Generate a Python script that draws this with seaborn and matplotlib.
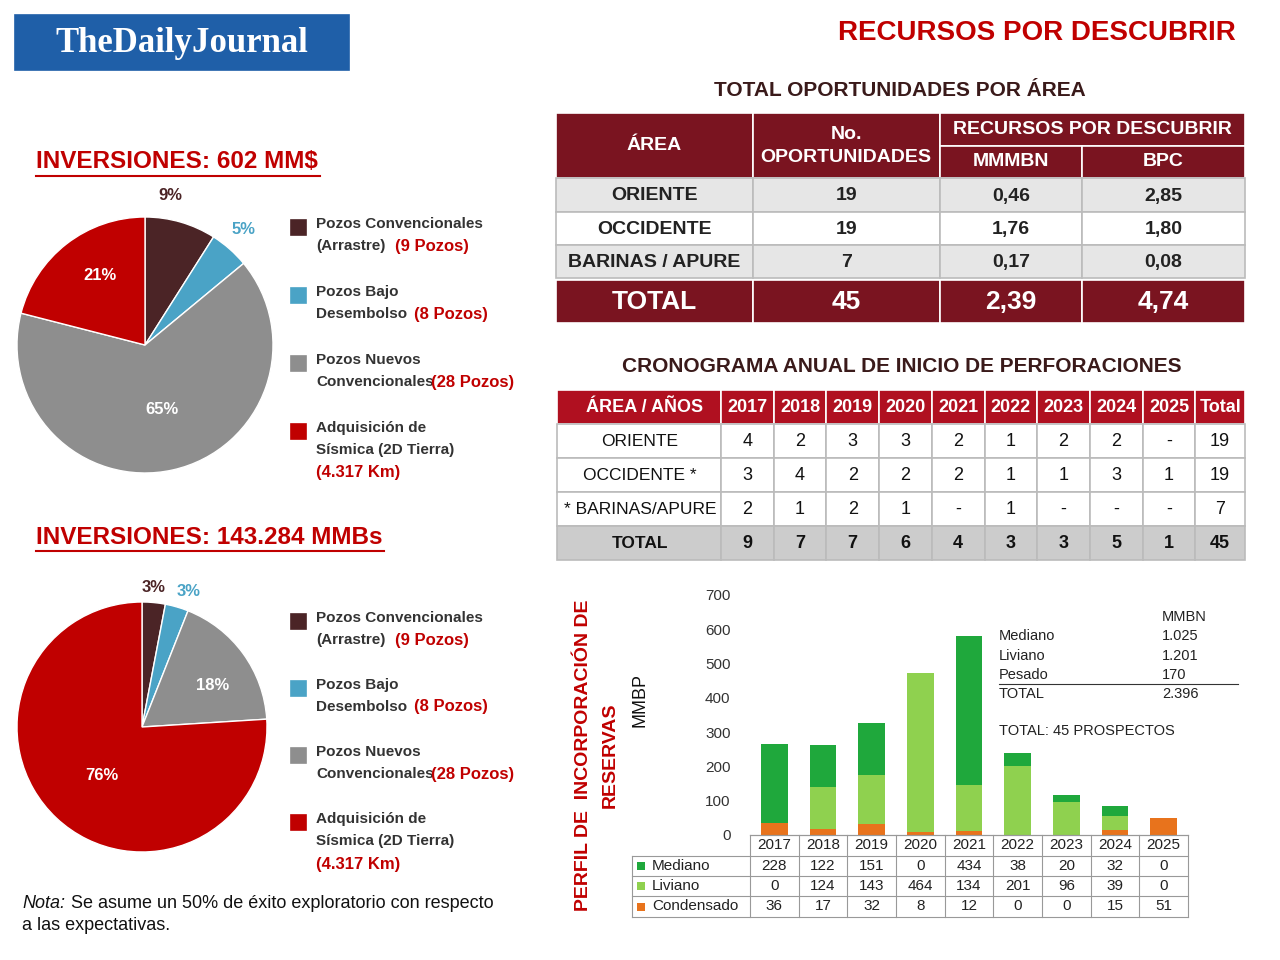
import matplotlib
matplotlib.use("Agg")
import matplotlib.pyplot as plt
import seaborn as sns
import pandas as pd
from matplotlib.patches import Rectangle

# ---- data ----
pie_labels = ["Pozos Convencionales\n(Arrastre)", "Pozos Bajo\nDesembolso", "Pozos Nuevos\nConvencionales", "Adquisición de\nSísmica (2D Tierra)"]
pie_extra = ["(9 Pozos)", "(8 Pozos)", "(28 Pozos)", "(4.317 Km)"]
pie1_vals = [9, 5, 65, 21]
pie2_vals = [3, 3, 18, 76]
pie_colors = ["#4b2426", "#4aa3c6", "#8e8e8e", "#c00000"]

areas = ["ORIENTE", "OCCIDENTE", "BARINAS / APURE"]
oportunidades = ["19", "19", "7"]
mmmbn = ["0,46", "1,76", "0,17"]
bpc = ["2,85", "1,80", "0,08"]
totals1 = ["45", "2,39", "4,74"]

years = ["2017", "2018", "2019", "2020", "2021", "2022", "2023", "2024", "2025"]
crono_rows = ["ORIENTE", "OCCIDENTE *", "* BARINAS/APURE", "TOTAL"]
crono = [["4", "2", "3", "3", "2", "1", "2", "2", "-", "19"],
         ["3", "4", "2", "2", "2", "1", "1", "3", "1", "19"],
         ["2", "1", "2", "1", "-", "1", "-", "-", "-", "7"],
         ["9", "7", "7", "6", "4", "3", "3", "5", "1", "45"]]

mediano = [228, 122, 151, 0, 434, 38, 20, 32, 0]
liviano = [0, 124, 143, 464, 134, 201, 96, 39, 0]
condensado = [36, 17, 32, 8, 12, 0, 0, 15, 51]

RED = "#c00000"
MAROON = "#7a1420"

plt.rcParams["font.family"] = ["Liberation Sans", "DejaVu Sans"]

fig = plt.figure(figsize=(12.8, 9.6), dpi=100)
fig.patch.set_facecolor("white")
ov = fig.add_axes([0, 0, 1, 1])
ov.set_xlim(0, 1280)
ov.set_ylim(960, 0)
ov.axis("off")
ov.set_zorder(5)
ov.patch.set_alpha(0)


def T(x, y, s, **kw):
    kw.setdefault("ha", "center")
    kw.setdefault("va", "center")
    ov.text(x, y, s, **kw)


def box(x0, y0, x1, y1, fc, ec="white", lw=1.2):
    ov.add_patch(Rectangle((x0, y0), x1 - x0, y1 - y0, fc=fc, ec=ec, lw=lw))


# logo + titles
box(15, 15, 349, 70, "#1f5fa8", ec="#1f5fa8")
T(182, 43, "TheDailyJournal", color="white", fontsize=25, fontweight="bold", family="Liberation Serif")
T(1037, 33, "RECURSOS POR DESCUBRIR", color=RED, fontsize=20, fontweight="bold")
T(900, 91, "TOTAL OPORTUNIDADES POR ÁREA", color="#3a1a1a", fontsize=15, fontweight="bold")
T(902, 367, "CRONOGRAMA ANUAL DE INICIO DE PERFORACIONES", color="#3a1a1a", fontsize=15, fontweight="bold")

# table 1
cx = [556, 753, 940, 1082, 1245]
for i in range(3):
    box(cx[i], 113, cx[i + 1], 178, MAROON)
box(940, 113, 1245, 146, MAROON)
box(940, 146, 1082, 178, MAROON)
box(1082, 146, 1245, 178, MAROON)
hk = dict(color="white", fontsize=14, fontweight="bold")
T(654, 146, "ÁREA", **hk)
T(846, 146, "No.\nOPORTUNIDADES", linespacing=1.5, **hk)
T(1092, 130, "RECURSOS POR DESCUBRIR", **hk)
T(1011, 162, "MMMBN", **hk)
T(1163, 162, "BPC", **hk)
ry = [178, 212, 245, 278]
for r in range(3):
    fc = "#e6e6e6" if r % 2 == 0 else "white"
    for i in range(4):
        box(cx[i], ry[r], cx[i + 1], ry[r + 1], fc, ec="#bbbbbb")
    vals = [areas[r], oportunidades[r], mmmbn[r], bpc[r]]
    for i in range(4):
        T((cx[i] + cx[i + 1]) / 2, (ry[r] + ry[r + 1]) / 2 + 1, vals[i], fontsize=14, fontweight="bold", color="#222")
for i in range(4):
    box(cx[i], 280, cx[i + 1], 323, MAROON)
T(654, 302, "TOTAL", color="white", fontsize=19, fontweight="bold")
for i in range(3):
    T((cx[i + 1] + cx[i + 2]) / 2, 302, totals1[i], color="white", fontsize=19, fontweight="bold")

# table 2
c2 = [557, 721] + [721 + 52.7 * k for k in range(1, 10)] + [1245]
ry2 = [390, 424, 458, 492, 526, 560]
for i in range(len(c2) - 1):
    box(c2[i], 390, c2[i + 1], 424, "#b01020")
T(645, 407, "ÁREA / AÑOS", color="white", fontsize=13, fontweight="bold")
for k, y in enumerate(years + ["Total"]):
    T((c2[k + 1] + c2[k + 2]) / 2, 407, y, color="white", fontsize=13, fontweight="bold")
for r in range(4):
    fc = "#cccccc" if r == 3 else "white"
    fw = "bold" if r == 3 else "normal"
    for i in range(len(c2) - 1):
        box(c2[i], ry2[r + 1], c2[i + 1], ry2[r + 2], fc, ec="#bbbbbb")
    yc = (ry2[r + 1] + ry2[r + 2]) / 2
    T(640, yc, crono_rows[r], fontsize=12.5, fontweight=fw, color="#111")
    for k, v in enumerate(crono[r]):
        T((c2[k + 1] + c2[k + 2]) / 2, yc, v, fontsize=13, fontweight=fw, color="#111")


# pies
def draw_pie(cx_, cy_, r, vals, title, ty, ulen, pct_pos):
    ax = fig.add_axes([(cx_ - r) / 1280, 1 - (cy_ + r) / 960, 2 * r / 1280, 2 * r / 960])
    ax.pie(vals, colors=pie_colors, startangle=90, counterclock=False, radius=1,
           wedgeprops=dict(edgecolor="white", linewidth=1))
    ax.set_xlim(-1, 1)
    ax.set_ylim(-1, 1)
    ax.set_aspect("auto")
    T(36, ty, title, ha="left", color=RED, fontsize=17.5, fontweight="bold")
    ov.plot([36, ulen], [ty + 14, ty + 14], color=RED, lw=1.5)
    for (x, y, c), v in zip(pct_pos, vals):
        T(x, y, f"{v}%", color=c, fontsize=12, fontweight="bold")


draw_pie(145, 345, 128, pie1_vals, "INVERSIONES: 602 MM$", 162, 320,
         [(170, 196, "#4b2426"), (244, 230, "#4aa3c6"), (162, 410, "white"), (100, 275, "white")])
draw_pie(142, 727, 125, pie2_vals, "INVERSIONES: 143.284 MMBs", 537, 384,
         [(154, 587, "#4b2426"), (189, 591, "#4aa3c6"), (213, 686, "white"), (102, 775, "white")])

extra_x = [395, 414, 431]


def pie_legend(y0, step):
    for k in range(4):
        y = y0 + k * step
        box(291, y - 8, 306, y + 7, pie_colors[k], ec=pie_colors[k])
        first, second = pie_labels[k].split("\n")
        T(316, y - 4, first, ha="left", fontsize=11, fontweight="bold", color="#333")
        T(316, y + 18, second, ha="left", fontsize=11, fontweight="bold", color="#333")
        if k < 3:
            T(extra_x[k], y + 18, pie_extra[k], ha="left", fontsize=12, fontweight="bold", color=RED)
        else:
            T(316, y + 41, pie_extra[k], ha="left", fontsize=12, fontweight="bold", color=RED)


pie_legend(228, 68)
pie_legend(622, 67)

T(22, 904, "Nota:", ha="left", fontsize=13, style="italic", color="#111")
T(71, 904, "Se asume un 50% de éxito exploratorio con respecto", ha="left", fontsize=13, color="#111")
T(22, 926, "a las expectativas.", ha="left", fontsize=13, color="#111")

# stacked bar chart
bx = fig.add_axes([750 / 1280, 1 - 835 / 960, 438 / 1280, 240 / 960])
df = pd.DataFrame({"year": years, "mediano": mediano, "liviano": liviano, "condensado": condensado})
base2 = [c + l for c, l in zip(condensado, liviano)]
sns.barplot(data=df, x="year", y="condensado", color="#e8731c", ax=bx, width=0.55, saturation=1)
sns.barplot(x=df["year"], y=df["liviano"], bottom=condensado, color="#8fd14f", ax=bx, width=0.55, saturation=1)
sns.barplot(x=df["year"], y=df["mediano"], bottom=base2, color="#1fa83c", ax=bx, width=0.55, saturation=1)
bx.set_ylim(0, 700)
bx.set_xlim(-0.5, 8.5)
bx.set_yticks(range(0, 701, 100))
bx.tick_params(axis="y", length=0, labelsize=11, colors="#333", pad=14)
bx.set_xticks([])
bx.set_xlabel("")
bx.set_ylabel("")
for s in bx.spines.values():
    s.set_visible(False)
bx.spines["bottom"].set_visible(True)
bx.spines["bottom"].set_color("#999")

T(640, 700, "MMBP", rotation=90, fontsize=13, color="#111")
T(583, 755, "PERFIL DE  INCORPORACIÓN DE", rotation=90, color=RED, fontsize=14, fontweight="bold")
T(610, 755, "RESERVAS", rotation=90, color=RED, fontsize=14, fontweight="bold")

# data table under chart
colw = 438 / 9
tx = [632, 750] + [750 + colw * k for k in range(1, 10)]
ty_ = [835, 856, 876, 896, 917]
for x in tx:
    ov.plot([x, x], [ty_[1] if x == 632 else 835, 917], color="#999", lw=0.8)
for y in ty_:
    ov.plot([632 if y > 835 else 750, 1188], [y, y], color="#999", lw=0.8)
for k, y in enumerate(years):
    T(750 + colw * (k + 0.5), 845, y, fontsize=11, color="#222")
rows = [("Mediano", mediano, "#1fa83c"), ("Liviano", liviano, "#8fd14f"), ("Condensado", condensado, "#e8731c")]
for r, (nm, vals, c) in enumerate(rows):
    yc = (ty_[r + 1] + ty_[r + 2]) / 2
    box(637, yc - 4, 645, yc + 4, c, ec=c, lw=0)
    T(652, yc, nm, ha="left", fontsize=11, color="#222")
    for k, v in enumerate(vals):
        T(750 + colw * (k + 0.5), yc, str(v), fontsize=11, color="#222")

# annotation
T(1162, 617, "MMBN", ha="left", fontsize=10.5, color="#222")
for i, (a, b) in enumerate([("Mediano", "1.025"), ("Liviano", "1.201"), ("Pesado", "170"), ("TOTAL", "2.396")]):
    T(999, 636 + i * 19.5, a, ha="left", fontsize=10.5, color="#222")
    T(1162, 636 + i * 19.5, b, ha="left", fontsize=10.5, color="#222")
ov.plot([999, 1238], [684, 684], color="#333", lw=0.8)
T(999, 731, "TOTAL: 45 PROSPECTOS", ha="left", fontsize=10.5, color="#222")

fig.savefig("out.png", dpi=100)
